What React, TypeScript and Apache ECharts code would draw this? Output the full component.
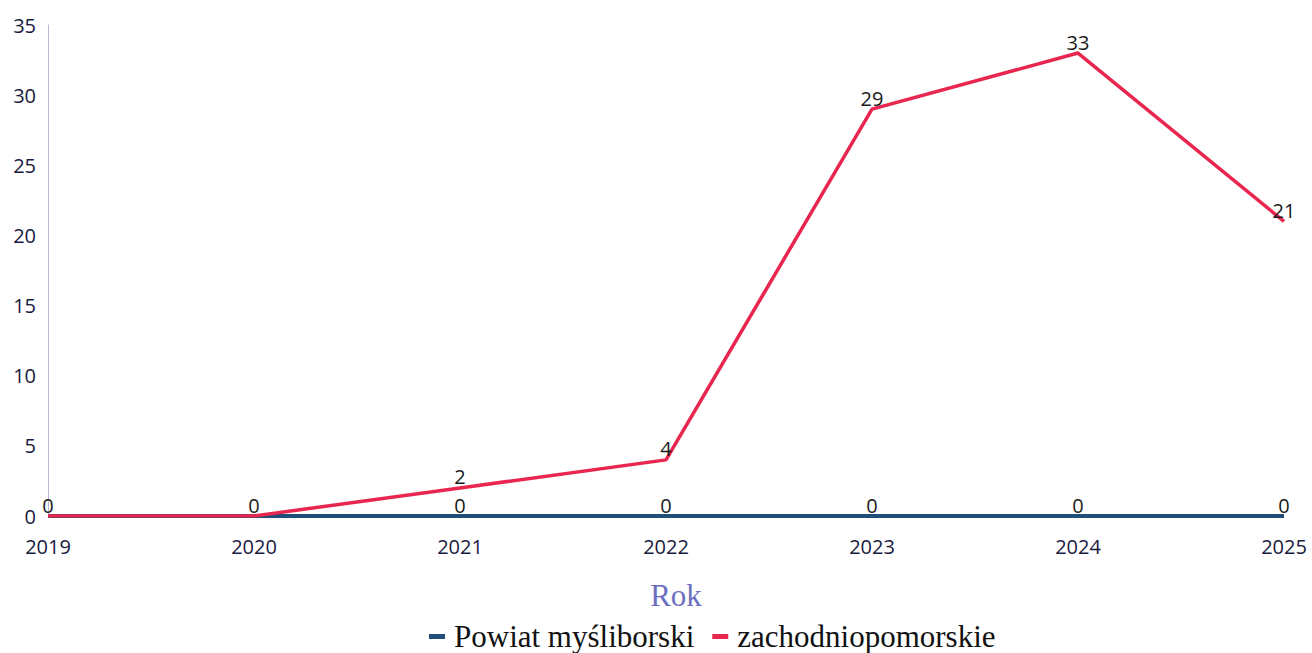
import React, { useEffect, useRef } from "react";
import * as echarts from "echarts";

const years = ["2019", "2020", "2021", "2022", "2023", "2024", "2025"];
const powiat = [0, 0, 0, 0, 0, 0, 0];
const zachodniopomorskie = [0, 0, 2, 4, 29, 33, 21];
const seriesNames = ["Powiat myśliborski", "zachodniopomorskie"];
// points where both series share the same label; only one label is drawn there
const sharedLabelIdx = [0, 1];

export default function App() {
  const ref = useRef<HTMLDivElement>(null);
  useEffect(() => {
    if (!ref.current) return;
    const chart = echarts.init(ref.current, null, { renderer: "svg" });
    const label = {
      show: true,
      position: "top" as const,
      distance: 1,
      color: "#1a1a1a",
      fontSize: 20,
      fontFamily: "Open Sans",
    };
    chart.setOption({
      animation: false,
      backgroundColor: "#ffffff",
      grid: { left: 48, right: 28, top: 25, bottom: 137, containLabel: false },
      legend: {
        left: 424,
        top: 616,
        icon: "rect",
        itemWidth: 16,
        itemHeight: 5,
        itemGap: 18,
        textStyle: { fontFamily: "Liberation Serif", fontSize: 31, color: "#111", padding: [0, 0, 0, 4] },
        data: seriesNames,
      },
      xAxis: {
        type: "category",
        data: years,
        boundaryGap: false,
        name: "Rok",
        nameLocation: "middle",
        nameGap: 64,
        nameTextStyle: { fontFamily: "Liberation Serif", fontSize: 31, color: "#6b6fc0", padding: [0, 0, 0, 20] },
        axisLine: { show: false },
        axisTick: { show: false },
        axisLabel: { fontSize: 20, fontFamily: "Open Sans", color: "#1a1a40", margin: 20 },
        splitLine: { show: false },
      },
      yAxis: {
        type: "value",
        min: 0,
        max: 35,
        interval: 5,
        axisLine: { show: true, lineStyle: { color: "#b8b8d8", width: 1 } },
        axisTick: { show: false },
        axisLabel: { fontSize: 20, fontFamily: "Open Sans", color: "#1a1a40", margin: 12 },
        splitLine: { show: false },
      },
      series: [
        {
          name: seriesNames[0],
          type: "line",
          data: powiat.map((v, i) =>
            sharedLabelIdx.includes(i) ? { value: v, label: { show: false } } : v
          ),
          symbol: "circle",
          symbolSize: 0,
          color: "#1f4e79",
          lineStyle: { color: "#1f4e79", width: 4 },
          label,
          z: 2,
        },
        {
          name: seriesNames[1],
          type: "line",
          data: zachodniopomorskie,
          symbol: "circle",
          symbolSize: 0,
          color: "#e8264f",
          lineStyle: { color: "#e8264f", width: 3.5 },
          label,
          z: 3,
        },
      ],
    });
    return () => chart.dispose();
  }, []);
  return (
    <div
      ref={ref}
      style={{ position: "absolute", left: 0, top: 0, width: 1312, height: 653 }}
    />
  );
}
